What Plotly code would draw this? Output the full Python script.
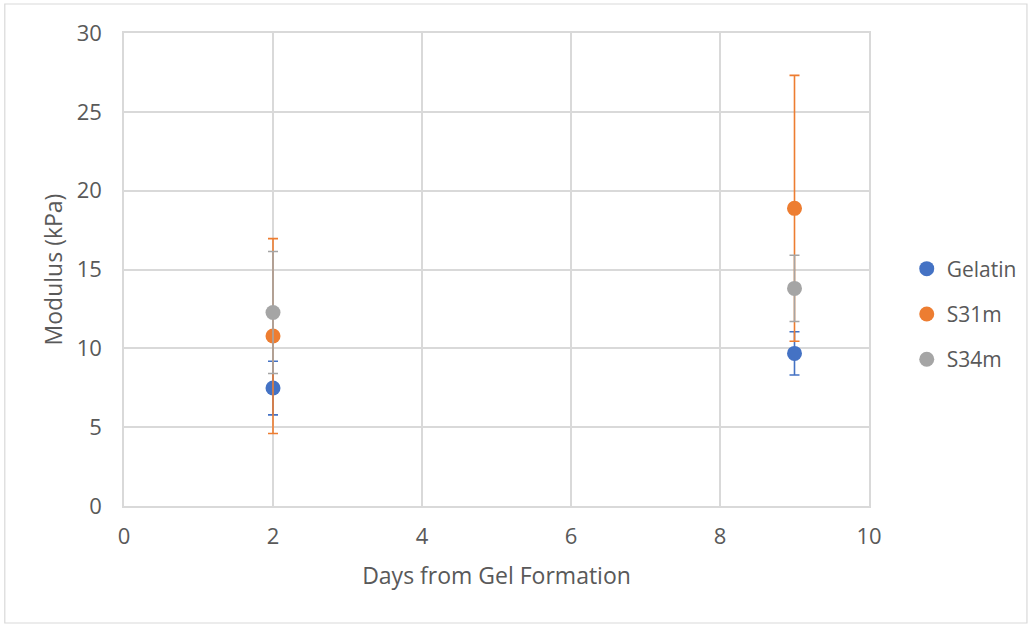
import plotly.graph_objects as go

days = [2, 9]
series_names = ["Gelatin", "S31m", "S34m"]
gelatin = [7.48, 9.68]
gelatin_err = [1.70, 1.37]
s31m = [10.78, 18.88]
s31m_err = [6.18, 8.43]
s34m = [12.27, 13.80]
s34m_err = [3.87, 2.10]
colors = ["#4472C4", "#ED7D31", "#A5A5A5"]

values = [gelatin, s31m, s34m]
errors = [gelatin_err, s31m_err, s34m_err]

W, H = 1034, 624
L, R, T, B = 124, 160, 33, 118

fig = go.Figure()
for name, v, e, c in zip(series_names, values, errors, colors):
    fig.add_trace(go.Scatter(
        x=days, y=v, name=name, mode="markers", legendgroup=name,
        marker=dict(color=c, size=15),
        error_y=dict(type="data", array=e, visible=True, color=c,
                     thickness=1.6, width=5),
    ))

font = "Open Sans, Segoe UI, Calibri, sans-serif"
pw = W - L - R
ph = H - T - B
fig.update_layout(
    width=W, height=H,
    margin=dict(l=L, r=R, t=T, b=B, pad=0),
    paper_bgcolor="white", plot_bgcolor="white",
    font=dict(family=font, color="#595959", size=20),
    xaxis=dict(range=[0, 10], dtick=2, showgrid=True, gridcolor="#D9D9D9",
               gridwidth=1.5, zeroline=False, showline=True, linecolor="#D9D9D9",
               linewidth=1.5, mirror=True, ticks="", ticklabelstandoff=10,
               tickfont=dict(size=22, color="#595959"),
               title=dict(text="Days from Gel Formation", font=dict(size=23), standoff=19)),
    yaxis=dict(range=[0, 30], dtick=5, showgrid=True, gridcolor="#D9D9D9",
               gridwidth=1.5, zeroline=False, showline=True, linecolor="#D9D9D9",
               linewidth=1.5, mirror=True, ticks="", ticklabelstandoff=16,
               tickfont=dict(size=22, color="#595959"),
               title=dict(text="Modulus (kPa)", font=dict(size=23), standoff=8)),
    legend=dict(x=(912 - L) / pw, y=(506 - 314) / ph, xanchor="left", yanchor="middle",
                font=dict(size=21, color="#595959"), tracegroupgap=15,
                itemwidth=30, bgcolor="rgba(0,0,0,0)"),
    shapes=[dict(type="rect", xref="paper", yref="paper",
                 x0=(4 - L) / pw, x1=(1033 - L) / pw,
                 y0=(T + ph - 623) / ph, y1=(T + ph - 4) / ph,
                 line=dict(color="#D9D9D9", width=1.2), layer="below")],
)

fig.write_html("out.html", config={"displayModeBar": False},
               post_script="document.body.style.margin='0px';")
